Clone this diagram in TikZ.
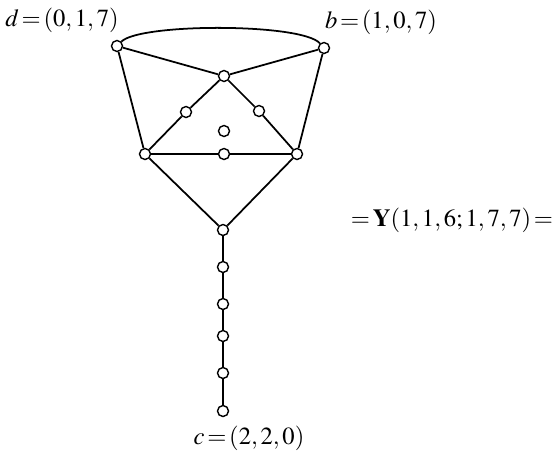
\documentclass[tikz,border=0pt]{standalone}
\usepackage{amsmath,amssymb}
\usepackage{mathptmx}
\usepackage{tikz}
\usetikzlibrary{positioning}

\begin{document}
\begin{tikzpicture}[x=0.02cm,y=-0.02cm,line width=1pt,
    vtx/.style={circle,draw,fill=white,inner sep=0pt,minimum size=0.22cm,line width=0.8pt},
    lab/.style={inner sep=0pt,font=\fontsize{14}{17}\selectfont}]
  \useasboundingbox (0,0) rectangle (553,454);
  % vertices
  \node[vtx] (d) at (117,46) {};
  \node[vtx] (b) at (324,48) {};
  \node[vtx] (t) at (224,76) {};
  \node[vtx] (l1) at (186,112) {};
  \node[vtx] (r1) at (259,111) {};
  \node[vtx] (m) at (224,131) {};
  \node[vtx] (bl) at (145,154) {};
  \node[vtx] (bm) at (224,154) {};
  \node[vtx] (br) at (297,154) {};
  \node[vtx] (a) at (223,230) {};
  \node[vtx] (c1) at (223,267) {};
  \node[vtx] (c2) at (223,304) {};
  \node[vtx] (c3) at (223,336) {};
  \node[vtx] (c4) at (223,373) {};
  \node[vtx] (c) at (223,411) {};
  % edges
  \draw (d) .. controls (140,23) and (302,23) .. (b);
  \draw (d) -- (t) -- (b);
  \draw (d) -- (bl);
  \draw (b) -- (br);
  \draw (t) -- (l1) -- (bl);
  \draw (t) -- (r1) -- (br);
  \draw (bl) -- (bm) -- (br);
  \draw (bl) -- (a) -- (br);
  \draw (a) -- (c1) -- (c2) -- (c3) -- (c4) -- (c);
  % labels
  \node[lab] (dlab) at (62,20) {$d\,{=}\,(0,1,7)$};
  \node[lab] (blab) at (381,22) {$b\,{=}\,(1,0,7)$};
  \node[lab] (clab) at (249,438) {$c\,{=}\,(2,2,0)$};
  \node[lab] (ylab) at (452,220) {${=}\,\mathbf{Y}(1,1,6;1,7,7)\,{=}$};
\end{tikzpicture}
\end{document}
